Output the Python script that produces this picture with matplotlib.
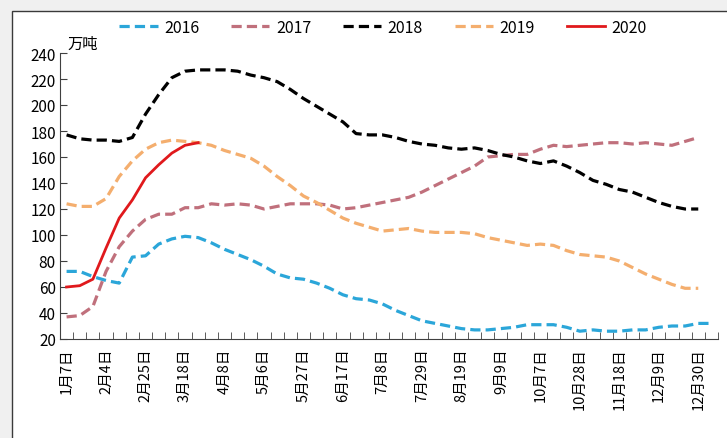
import numpy as np
import matplotlib
matplotlib.use('Agg')
import matplotlib.pyplot as plt
import matplotlib.patches as patches

plt.rcParams['font.family'] = ['Liberation Sans Narrow', 'Noto Sans CJK SC', 'DejaVu Sans']

# weekly values, unit: 万吨
v2016 = [72, 72, 68, 65, 63, 83, 84, 93, 97, 99, 98, 94, 89, 85, 81, 76, 70, 67, 66, 63,
         59, 54, 51, 50, 47, 42, 38, 34, 32, 30, 28, 27, 27, 28, 29, 31, 31, 31, 29, 26,
         27, 26, 26, 27, 27, 29, 30, 30, 32, 32]
v2017 = [37, 38, 45, 72, 91, 103, 112, 116, 116, 121, 121, 124, 123, 124, 123, 120, 122, 124, 124, 124,
         123, 120, 121, 123, 125, 127, 129, 133, 138, 143, 148, 153, 160, 161, 162, 162, 166, 169, 168, 169,
         170, 171, 171, 170, 171, 170, 169, 172, 175]
v2018 = [177, 174, 173, 173, 172, 175, 193, 208, 221, 226, 227, 227, 227, 226, 223, 221, 218, 212, 205, 199,
         193, 187, 178, 177, 177, 175, 172, 170, 169, 167, 166, 167, 165, 162, 160, 157, 155, 157, 153, 148,
         142, 139, 135, 133, 129, 125, 122, 120, 120]
v2019 = [124, 122, 122, 128, 145, 157, 166, 171, 173, 172, 171, 169, 165, 162, 159, 153, 145, 138, 130, 125,
         119, 113, 109, 106, 103, 104, 105, 103, 102, 102, 102, 101, 98, 96, 94, 92, 93, 92, 88, 85,
         84, 83, 80, 75, 70, 66, 62, 59, 59]
v2020 = [60, 61, 66, 90, 113, 127, 144, 154, 163, 169, 171]

tick_labels = ['1月7日', '2月4日', '2月25日', '3月18日', '4月8日', '5月6日', '5月27日', '6月17日',
               '7月8日', '7月29日', '8月19日', '9月9日', '10月7日', '10月28日', '11月18日',
               '12月9日', '12月30日']
n_cat = 50

series = [('2016', v2016, '#2BA6D9', '--'),
          ('2017', v2017, '#C0707C', '--'),
          ('2018', v2018, '#000000', '--'),
          ('2019', v2019, '#F4AE6E', '--'),
          ('2020', v2020, '#E0191C', '-')]

fig = plt.figure(figsize=(7.27, 4.39), dpi=100)
fig.patch.set_facecolor('#f0f0f0')
# white chart frame
fig.patches.append(patches.Rectangle((12 / 727, -0.05), 1.0, 1 - 12 / 439 + 0.05,
                                     transform=fig.transFigure, facecolor='white',
                                     edgecolor='#3a3a3a', lw=1.0, zorder=-5))

ax = fig.add_axes([60 / 727, (439 - 340) / 439, (718 - 60) / 727, (340 - 54) / 439])
ax.set_facecolor('none')
ax.set_zorder(2)

for name, vals, c, ls in series:
    x = np.arange(len(vals))
    if ls == '--':
        ax.plot(x, vals, color=c, lw=2.3, ls=ls, dashes=(3.2, 1.6), label=name,
                solid_capstyle='butt')
    else:
        ax.plot(x, vals, color=c, lw=2.0, ls=ls, label=name)

ax.set_xlim(-0.5, n_cat - 0.5)
ax.set_ylim(20, 240)
ax.set_yticks(np.arange(20, 241, 20))
ax.set_xticks(np.arange(0, 3 * len(tick_labels), 3))
ax.set_xticklabels(tick_labels, rotation=90, fontsize=10.5)
ax.set_xticks(np.arange(-0.5, n_cat, 1), minor=True)
ax.tick_params(axis='x', which='major', length=0, pad=6)
ax.tick_params(axis='x', which='minor', direction='in', length=5, color='#404040')
ax.tick_params(axis='y', direction='in', length=5, labelsize=11, color='#404040', pad=3)
for s in ['top', 'right']:
    ax.spines[s].set_visible(False)
for s in ['left', 'bottom']:
    ax.spines[s].set_color('#404040')

ax.text(0.012, 1.005, '万吨', transform=ax.transAxes, fontsize=11, va='bottom', ha='left')

fig.legend(loc='center', bbox_to_anchor=(0.527, 0.936), ncol=5, frameon=False,
           fontsize=11.5, handlelength=2.4, columnspacing=2.0, handletextpad=0.4)

fig.savefig('out.png', dpi=100, facecolor=fig.get_facecolor())
